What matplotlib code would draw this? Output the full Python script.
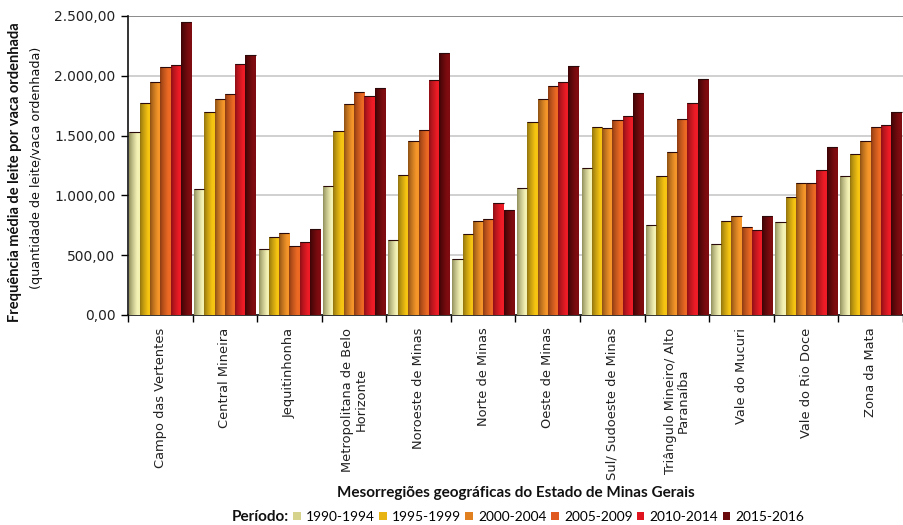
import numpy as np
import matplotlib
matplotlib.use("Agg")
import matplotlib.pyplot as plt
from matplotlib.colors import to_rgb
from matplotlib.patches import Patch

# Mesoregions of Minas Gerais
regions = [
    "Campo das Vertentes",
    "Central Mineira",
    "Jequitinhonha",
    "Metropolitana de Belo\nHorizonte",
    "Noroeste de Minas",
    "Norte de Minas",
    "Oeste de Minas",
    "Sul/ Sudoeste de Minas",
    "Triângulo Mineiro/ Alto\nParanaíba",
    "Vale do Mucuri",
    "Vale do Rio Doce",
    "Zona da Mata",
]

periods = ["1990-1994", "1995-1999", "2000-2004", "2005-2009", "2010-2014", "2015-2016"]

# Average milk yield per milked cow, one list per period (same order as regions)
p1990_1994 = [1530, 1053, 553, 1081, 628, 469, 1061, 1226, 749, 592, 776, 1165]
p1995_1999 = [1771, 1698, 656, 1542, 1173, 676, 1617, 1570, 1165, 788, 989, 1349]
p2000_2004 = [1950, 1802, 682, 1765, 1458, 788, 1810, 1561, 1366, 830, 1100, 1458]
p2005_2009 = [2070, 1846, 573, 1866, 1550, 802, 1913, 1634, 1637, 737, 1100, 1572]
p2010_2014 = [2089, 2095, 609, 1835, 1966, 933, 1947, 1662, 1774, 709, 1209, 1589]
p2015_2016 = [2450, 2170, 718, 1902, 2190, 877, 2086, 1855, 1975, 830, 1405, 1698]

series = [p1990_1994, p1995_1999, p2000_2004, p2005_2009, p2010_2014, p2015_2016]

yticks = [0, 500, 1000, 1500, 2000, 2500]
ytick_labels = ["0,00", "500,00", "1.000,00", "1.500,00", "2.000,00", "2.500,00"]

# (shaded left edge, bright right side) for each period
shades = [
    ("#8d8c5a", "#f4f2b4"),
    ("#8f7210", "#f6c412"),
    ("#8c4f12", "#f5962a"),
    ("#8a3a12", "#ec6a24"),
    ("#8c1016", "#ee1c26"),
    ("#3a0405", "#7e0c10"),
]
legend_colors = ["#d6d48c", "#e8b412", "#e0801f", "#e05a1f", "#e0141e", "#6a0a0c"]


def gradient_image(c_left, c_right, n=64):
    a = np.array(to_rgb(c_left))
    b = np.array(to_rgb(c_right))
    t = np.linspace(0, 1, n)
    t = np.clip(t / 0.75, 0, 1) ** 0.8
    row = a[None, :] * (1 - t[:, None]) + b[None, :] * t[:, None]
    return row[None, :, :]


fig = plt.figure(figsize=(9.04, 5.25), dpi=100)
ax = fig.add_axes([128 / 904, 1 - 315 / 525, (903 - 128) / 904, (315 - 16) / 525])

n = len(series)
group = 0.955
width = group / n
x = np.arange(len(regions))

for i, vals in enumerate(series):
    offs = -group / 2 + width * (i + 0.5)
    bars = ax.bar(x + offs, vals, width=width, color=legend_colors[i],
                  edgecolor="none", zorder=2)
    img = gradient_image(*shades[i])
    for rect in bars:
        x0, w, h = rect.get_x(), rect.get_width(), rect.get_height()
        im = ax.imshow(img, extent=(x0, x0 + w, 0, h), aspect="auto",
                       interpolation="bilinear", zorder=3)
        im.set_clip_path(rect)
        ax.plot([x0, x0 + w], [h, h], color="#2a0a0a", lw=0.8, zorder=4,
                solid_capstyle="butt")

ax.set_xlim(-0.5, len(regions) - 0.5)
ax.set_ylim(0, 2500)

ax.set_yticks(yticks)
ax.set_yticklabels(ytick_labels, fontsize=10, family="DejaVu Sans", color="#222222")
ax.tick_params(axis="y", direction="out", length=5, width=1, pad=4)

ax.set_xticks(x)
ax.set_xticklabels(regions, rotation=90, fontsize=9.4, family="DejaVu Sans",
                   va="top", ha="center", linespacing=1.05, color="#222222")
ax.tick_params(axis="x", length=0, pad=9)
ax.set_xticks(np.arange(-0.5, len(regions)), minor=True)
ax.tick_params(axis="x", which="minor", direction="out", length=5, width=1)

ax.yaxis.grid(True, color="#c8c8c8", lw=1.2, zorder=0)
ax.set_axisbelow(True)
for s in ("top", "right"):
    ax.spines[s].set_visible(False)
for s in ("left", "bottom"):
    ax.spines[s].set_color("#111111")
    ax.spines[s].set_linewidth(1.2)
ax.axhline(2500, color="#8c8c8c", lw=1.4, zorder=1)

fig.text(15 / 904, 1 - 172 / 525, "Frequência média de leite por vaca ordenhada",
         rotation=90, ha="center", va="center", fontsize=10.5, fontweight="bold",
         family="Lato", color="#111111")
fig.text(37 / 904, 1 - 168 / 525, "(quantidade de leite/vaca ordenhada)",
         rotation=90, ha="center", va="center", fontsize=9.2,
         family="DejaVu Sans", color="#111111")

fig.text(516 / 904, 1 - 493 / 525, "Mesorregiões geográficas do Estado de Minas Gerais",
         ha="center", va="center", fontsize=11, fontweight="bold", family="Lato",
         color="#111111")

fig.text(232 / 904, 1 - 517 / 525, "Período:", ha="left", va="center",
         fontsize=11, fontweight="bold", family="Lato", color="#111111")
handles = [Patch(facecolor=c, edgecolor="none") for c in legend_colors]
fig.legend(handles, periods, loc="center left", bbox_to_anchor=(293 / 904, 1 - 517 / 525),
           ncol=6, frameon=False, handlelength=0.55, handleheight=0.55,
           handletextpad=0.4, columnspacing=0.3, borderpad=0, borderaxespad=0,
           prop={"family": "Lato", "size": 9.9})

fig.savefig("out.png", dpi=100)
